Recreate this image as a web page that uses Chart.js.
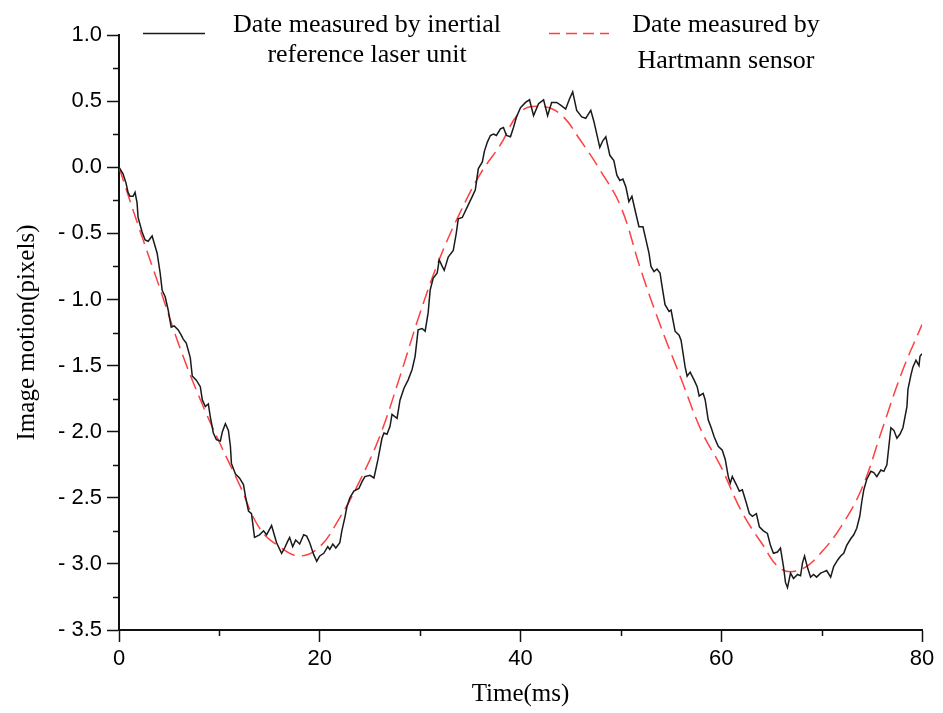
<!DOCTYPE html>
<html>
<head>
<meta charset="utf-8">
<script src="https://cdn.jsdelivr.net/npm/chart.js@4.4.1/dist/chart.umd.min.js"></script>
<style>
  html, body { margin: 0; padding: 0; background: #fff; }
  canvas { display: block; }
</style>
</head>
<body>
<canvas id="chart" width="943" height="713"></canvas>
<script>
// data
const seriesLabels = [
  ["Date measured by inertial", "reference laser unit"],
  ["Date measured by", "Hartmann sensor"],
];

const inertialTime = [
  0.0, 0.4, 0.7, 0.9, 1.1, 1.4, 1.6, 1.8, 1.9, 2.3, 2.6, 2.9, 3.3, 3.8, 4.1, 4.3, 4.6, 4.9, 5.2, 5.5,
  5.9, 6.2, 6.4, 6.7, 7.1, 7.3, 7.7, 8.1, 8.3, 8.6, 8.9, 9.1, 9.4, 9.7, 10.1, 10.3, 10.6, 10.9, 11.1, 11.2,
  11.6, 12.0, 12.4, 12.6, 12.9, 13.2, 13.5, 14.0, 14.4, 14.7, 15.2, 15.7, 16.2, 16.5, 16.8, 17.0, 17.3, 17.6, 18.0, 18.4,
  18.7, 19.0, 19.4, 19.7, 20.0, 20.4, 20.8, 21.0, 21.3, 21.6, 22.0, 22.2, 22.5, 22.7, 23.0, 23.4, 23.9, 24.2, 24.5, 25.0,
  25.4, 25.8, 26.2, 26.4, 26.7, 27.0, 27.2, 27.7, 28.0, 28.4, 28.8, 29.2, 29.5, 29.8, 30.2, 30.5, 30.8, 31.0, 31.3, 31.7,
  31.9, 32.2, 32.4, 32.8, 33.3, 33.6, 33.8, 34.2, 34.7, 35.2, 35.5, 35.8, 36.2, 36.4, 36.7, 37.0, 37.3, 37.6, 38.0, 38.3,
  38.6, 39.0, 39.3, 39.6, 40.0, 40.5, 40.9, 41.3, 41.8, 42.3, 42.7, 43.1, 43.6, 44.0, 44.5, 44.9, 45.2, 45.6, 46.1, 46.5,
  47.0, 47.3, 47.6, 47.9, 48.2, 48.5, 48.9, 49.3, 49.6, 49.9, 50.2, 50.5, 50.8, 51.1, 51.4, 51.8, 52.2, 52.5, 52.8, 53.0,
  53.3, 53.6, 53.9, 54.1, 54.4, 54.8, 55.0, 55.4, 55.8, 56.0, 56.4, 56.6, 56.9, 57.3, 57.6, 57.8, 58.2, 58.4, 58.7, 59.0,
  59.3, 59.7, 60.1, 60.4, 60.7, 60.9, 61.1, 61.5, 61.8, 62.1, 62.5, 62.8, 63.1, 63.5, 63.8, 64.2, 64.6, 64.9, 65.2, 65.6,
  65.9, 66.2, 66.4, 66.6, 66.9, 67.2, 67.6, 67.9, 68.1, 68.3, 68.6, 68.9, 69.2, 69.5, 69.9, 70.2, 70.5, 70.9, 71.2, 71.6,
  71.9, 72.2, 72.5, 72.9, 73.2, 73.5, 73.8, 74.0, 74.2, 74.5, 74.9, 75.2, 75.5, 75.9, 76.2, 76.5, 76.7, 76.9, 77.2, 77.5,
  77.8, 78.1, 78.5, 78.6, 78.9, 79.1, 79.4, 79.7, 79.8, 80.0,
];
const inertialMotion = [
  0.00, -0.05, -0.12, -0.19, -0.22, -0.22, -0.19, -0.27, -0.38, -0.49, -0.55, -0.56, -0.52, -0.65, -0.80, -0.93, -0.98, -1.08, -1.21, -1.20,
  -1.23, -1.27, -1.30, -1.33, -1.44, -1.58, -1.61, -1.66, -1.76, -1.81, -1.79, -1.89, -2.01, -2.06, -2.07, -2.00, -1.94, -1.99, -2.11, -2.24,
  -2.32, -2.35, -2.40, -2.49, -2.60, -2.62, -2.80, -2.78, -2.75, -2.78, -2.71, -2.84, -2.92, -2.88, -2.83, -2.80, -2.87, -2.82, -2.85, -2.78,
  -2.79, -2.84, -2.93, -2.98, -2.94, -2.92, -2.87, -2.89, -2.85, -2.88, -2.84, -2.75, -2.65, -2.57, -2.50, -2.45, -2.43, -2.38, -2.34, -2.33,
  -2.35, -2.21, -2.05, -2.01, -2.02, -1.96, -1.87, -1.90, -1.76, -1.67, -1.61, -1.53, -1.43, -1.23, -1.22, -1.24, -1.10, -0.93, -0.84, -0.80,
  -0.70, -0.75, -0.78, -0.68, -0.63, -0.50, -0.39, -0.38, -0.30, -0.22, -0.17, -0.01, 0.04, 0.12, 0.19, 0.24, 0.25, 0.24, 0.29, 0.30,
  0.24, 0.23, 0.30, 0.38, 0.45, 0.49, 0.51, 0.39, 0.48, 0.51, 0.39, 0.49, 0.49, 0.47, 0.44, 0.52, 0.57, 0.43, 0.38, 0.37,
  0.43, 0.35, 0.25, 0.15, 0.20, 0.23, 0.09, 0.05, -0.06, -0.10, -0.09, -0.15, -0.26, -0.22, -0.32, -0.45, -0.45, -0.55, -0.65, -0.75,
  -0.79, -0.77, -0.80, -0.90, -1.04, -1.09, -1.08, -1.24, -1.27, -1.31, -1.51, -1.58, -1.55, -1.61, -1.66, -1.73, -1.71, -1.76, -1.91, -1.97,
  -2.04, -2.11, -2.14, -2.21, -2.34, -2.39, -2.34, -2.40, -2.45, -2.44, -2.54, -2.62, -2.64, -2.62, -2.72, -2.75, -2.77, -2.86, -2.92, -2.91,
  -2.88, -3.02, -3.14, -3.18, -3.07, -3.11, -3.08, -3.09, -2.99, -2.94, -3.03, -3.10, -3.08, -3.10, -3.07, -3.06, -3.05, -3.10, -3.02, -2.97,
  -2.94, -2.92, -2.86, -2.81, -2.78, -2.73, -2.64, -2.53, -2.44, -2.36, -2.30, -2.31, -2.34, -2.29, -2.30, -2.25, -2.11, -1.97, -1.99, -2.05,
  -2.02, -1.97, -1.81, -1.68, -1.57, -1.51, -1.46, -1.50, -1.43, -1.41,
];

const hartmannTime = [
  0, 2, 4, 6, 8, 10, 12, 14, 16, 18, 20, 22, 24, 26, 28, 30, 32, 34, 36, 38, 40,
  42, 44, 46, 48, 50, 52, 54, 56, 58, 60, 62, 64, 66, 68, 70, 72, 74, 76, 78, 80,
];
const hartmannMotion = [
  0.00, -0.46, -0.90, -1.35, -1.74, -2.08, -2.40, -2.73, -2.87, -2.94, -2.87, -2.65, -2.37, -2.03, -1.58, -1.10, -0.68, -0.34, -0.05, 0.17, 0.42,
  0.46, 0.40, 0.20, -0.03, -0.30, -0.78, -1.21, -1.60, -1.99, -2.27, -2.60, -2.84, -3.04, -3.04, -2.91, -2.71, -2.43, -1.99, -1.55, -1.19,
];

const xTicks = [0, 20, 40, 60, 80];
const yTicks = [1.0, 0.5, 0.0, -0.5, -1.0, -1.5, -2.0, -2.5, -3.0, -3.5];
const xMinorTicks = [10, 30, 50, 70];
const yMinorTicks = [0.75, 0.25, -0.25, -0.75, -1.25, -1.75, -2.25, -2.75, -3.25];

const toPoints = (xs, ys) => xs.map((x, i) => ({ x, y: ys[i] }));

// minor ticks, drawn with the chart's own scales
const minorTicks = {
  id: "minorTicks",
  afterDraw(chart) {
    const { ctx, scales } = chart;
    const xs = scales.x, ys = scales.y;
    ctx.save();
    ctx.strokeStyle = "#111";
    ctx.lineWidth = 1.5;
    ctx.beginPath();
    yMinorTicks.forEach((v) => {
      const py = Math.round(ys.getPixelForValue(v)) + 0.5;
      ctx.moveTo(xs.left, py);
      ctx.lineTo(xs.left - 6, py);
    });
    xMinorTicks.forEach((v) => {
      const px = Math.round(xs.getPixelForValue(v)) + 0.5;
      ctx.moveTo(px, ys.bottom);
      ctx.lineTo(px, ys.bottom + 6);
    });
    ctx.stroke();
    ctx.restore();
  },
};

// two-line legend entries at the top of the plot
const topLegend = {
  id: "topLegend",
  afterDraw(chart) {
    const ctx = chart.ctx;
    const items = [
      { sx: 143, ex: 205, sy: 33, tx: 367, base: [32, 62], dash: [] },
      { sx: 549, ex: 609, sy: 33, tx: 726, base: [32, 68], dash: [11, 6] },
    ];
    ctx.save();
    chart.data.datasets.forEach((ds, i) => {
      const it = items[i];
      ctx.strokeStyle = ds.borderColor;
      ctx.lineWidth = ds.borderWidth;
      ctx.setLineDash(it.dash);
      ctx.beginPath();
      ctx.moveTo(it.sx, it.sy + 0.5);
      ctx.lineTo(it.ex, it.sy + 0.5);
      ctx.stroke();
      ctx.setLineDash([]);
      ctx.fillStyle = "#000";
      ctx.font = '26px "Liberation Serif", "Times New Roman", serif';
      ctx.textAlign = "center";
      ctx.textBaseline = "alphabetic";
      ds.label.forEach((line, j) => ctx.fillText(line, it.tx, it.base[j]));
    });
    ctx.restore();
  },
};

const tickFont = { family: '"Liberation Sans", Arial, sans-serif', size: 22 };
const titleFont = { family: '"Liberation Serif", "Times New Roman", serif', size: 25 };

new Chart(document.getElementById("chart"), {
  type: "line",
  data: {
    datasets: [
      {
        label: seriesLabels[0],
        data: toPoints(inertialTime, inertialMotion),
        borderColor: "#1a1a1a",
        borderWidth: 1.5,
        pointRadius: 0,
        tension: 0,
        order: 1,
      },
      {
        label: seriesLabels[1],
        data: toPoints(hartmannTime, hartmannMotion),
        borderColor: "#ff4040",
        borderWidth: 1.5,
        borderDash: [15, 7],
        pointRadius: 0,
        tension: 0.4,
        order: 2,
      },
    ],
  },
  options: {
    responsive: false,
    animation: false,
    layout: { padding: { left: 0, right: 21, top: 35, bottom: 0 } },
    plugins: { legend: { display: false }, tooltip: { enabled: false } },
    scales: {
      x: {
        type: "linear",
        min: 0,
        max: 80,
        afterFit: (s) => { s.height = 83; },
        afterBuildTicks: (s) => { s.ticks = xTicks.map((v) => ({ value: v })); },
        ticks: { font: tickFont, color: "#000", padding: 4, maxRotation: 0 },
        grid: { drawOnChartArea: false, tickLength: 12, tickColor: "#111", tickWidth: 1.5 },
        border: { color: "#111", width: 2 },
        title: { display: true, text: "Time(ms)", font: titleFont, color: "#000", padding: { top: 0, bottom: 4 } },
      },
      y: {
        type: "linear",
        min: -3.5,
        max: 1.0,
        afterFit: (s) => { s.width = 119; },
        afterBuildTicks: (s) => { s.ticks = yTicks.map((v) => ({ value: v })); },
        ticks: {
          font: tickFont,
          color: "#000",
          padding: 5,
          callback: (v) => (v < 0 ? "- " : "") + Math.abs(v).toFixed(1),
        },
        grid: { drawOnChartArea: false, tickLength: 12, tickColor: "#111", tickWidth: 1.5 },
        border: { color: "#111", width: 2 },
        title: { display: true, text: "Image motion(pixels)", font: titleFont, color: "#000", padding: { top: 12, bottom: 0 } },
      },
    },
  },
  plugins: [minorTicks, topLegend],
});
</script>
</body>
</html>
